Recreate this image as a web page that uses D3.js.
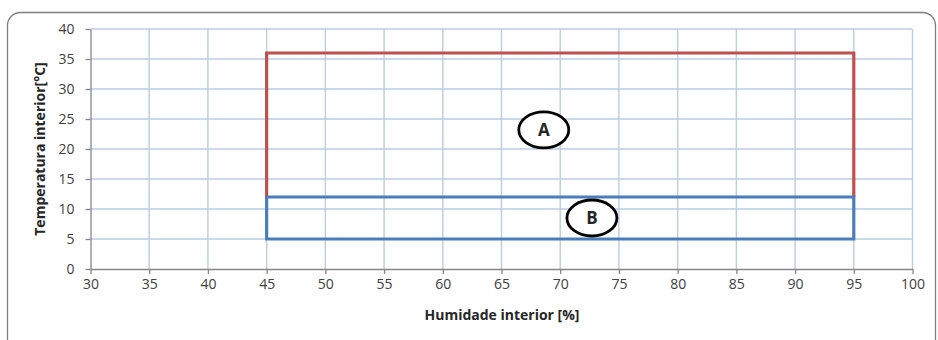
<!DOCTYPE html>
<html>
<head>
<meta charset="utf-8">
<script src="https://cdn.jsdelivr.net/npm/d3@7"></script>
<style>
  body { margin: 0; background: #fff; }
  svg text { font-family: "Open Sans", "Liberation Sans", sans-serif; }
</style>
</head>
<body>
<svg id="chart"></svg>
<script>
// chart size
var width = 938;
var height = 340;

// data
var xTicks = [30, 35, 40, 45, 50, 55, 60, 65, 70, 75, 80, 85, 90, 95, 100];
var yTicks = [0, 5, 10, 15, 20, 25, 30, 35, 40];
// zone A (red): open at the bottom, sits on zone B
var zoneAx = [45, 45, 95, 95];
var zoneAy = [12, 36, 36, 12];
// zone B (blue): closed rectangle
var zoneBx = [45, 95, 95, 45, 45];
var zoneBy = [12, 12, 5, 5, 12];
// zone labels
var labelNames = ["A", "B"];
var labelX = [68.6, 72.7];
var labelY = [23.2, 8.5];

var svg = d3.select("#chart").attr("width", width).attr("height", height);

// outer frame
svg.append("rect")
    .attr("x", 7.5).attr("y", 12.5)
    .attr("width", 928).attr("height", 345)
    .attr("rx", 13)
    .attr("fill", "none")
    .attr("stroke", "#7f7f7f")
    .attr("stroke-width", 1.3);

var xScale = d3.scaleLinear().domain([30, 100]).range([90.5, 912.5]);
var yScale = d3.scaleLinear().domain([0, 40]).range([269, 29]);

// grid
svg.append("g").selectAll("line")
  .data(xTicks.slice(1))
  .enter().append("line")
    .attr("x1", d => xScale(d)).attr("x2", d => xScale(d))
    .attr("y1", yScale(40)).attr("y2", yScale(0))
    .attr("stroke", "#b9cde5").attr("stroke-width", 1.4);

svg.append("g").selectAll("line")
  .data(yTicks.slice(1))
  .enter().append("line")
    .attr("x1", xScale(30)).attr("x2", xScale(100))
    .attr("y1", d => yScale(d)).attr("y2", d => yScale(d))
    .attr("stroke", "#b9cde5").attr("stroke-width", 1.4);

// axes
var xAxis = d3.axisBottom(xScale).tickValues(xTicks).tickSize(5).tickSizeOuter(0).tickPadding(5);
var yAxis = d3.axisLeft(yScale).tickValues(yTicks).tickSize(5).tickSizeOuter(0).tickPadding(11);

var gx = svg.append("g")
    .attr("transform", "translate(0," + yScale(0) + ")")
    .call(xAxis);
var gy = svg.append("g")
    .attr("transform", "translate(" + xScale(30) + ",0)")
    .call(yAxis);

[gx, gy].forEach(function (g) {
  g.select(".domain").attr("stroke", "#868686").attr("stroke-width", 1.3);
  g.selectAll(".tick line").attr("stroke", "#868686").attr("stroke-width", 1.3);
  g.selectAll(".tick text")
    .attr("fill", "#404040")
    .style("font-size", "14px");
});

// zones
var line = d3.line().x(d => xScale(d[0])).y(d => yScale(d[1]));

svg.append("path")
    .attr("d", line(d3.zip(zoneAx, zoneAy)))
    .attr("fill", "none")
    .attr("stroke", "#c0504d")
    .attr("stroke-width", 3.2);

svg.append("path")
    .attr("d", line(d3.zip(zoneBx, zoneBy)))
    .attr("fill", "none")
    .attr("stroke", "#4a7ebb")
    .attr("stroke-width", 3.2);

// zone labels in ellipses
var labels = svg.append("g").selectAll("g")
  .data(labelNames)
  .enter().append("g")
    .attr("transform", (d, i) => "translate(" + xScale(labelX[i]) + "," + yScale(labelY[i]) + ")");

labels.append("ellipse")
    .attr("rx", 25).attr("ry", 18)
    .attr("fill", "#fff")
    .attr("stroke", "#000")
    .attr("stroke-width", 2.8);

labels.append("text")
    .attr("dy", "0.36em")
    .style("text-anchor", "middle")
    .style("font-size", "17px")
    .style("font-weight", "bold")
    .attr("fill", "#262626")
    .text(d => d);

// axis titles
svg.append("text")
    .attr("x", 502)
    .attr("y", 320)
    .style("text-anchor", "middle")
    .style("font-size", "14px")
    .style("font-weight", "bold")
    .attr("fill", "#262626")
    .text("Humidade interior [%]");

svg.append("text")
    .attr("transform", "rotate(-90)")
    .attr("x", -149)
    .attr("y", 45)
    .style("text-anchor", "middle")
    .style("font-size", "14px")
    .style("font-weight", "bold")
    .attr("fill", "#262626")
    .text("Temperatura interior[°C]");
</script>
</body>
</html>
